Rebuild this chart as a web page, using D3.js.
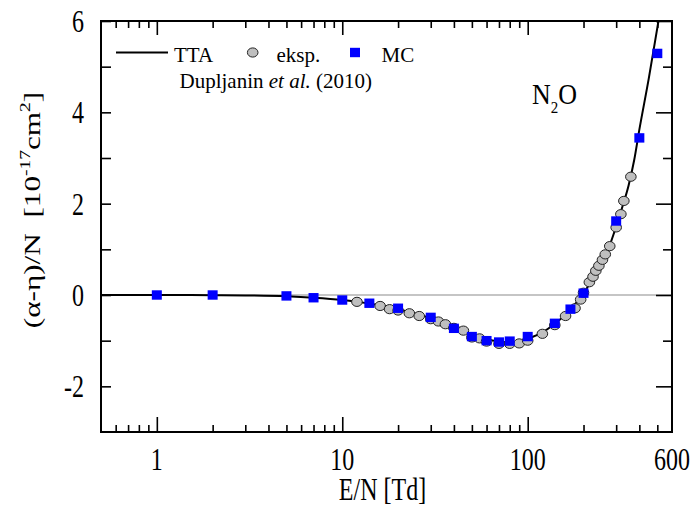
<!DOCTYPE html>
<html><head><meta charset="utf-8">
<script src="https://cdn.jsdelivr.net/npm/d3@7"></script>
<style>html,body{margin:0;padding:0;background:#fff}svg{display:block}text{font-family:"Liberation Serif","Times New Roman",serif;fill:#000}</style>
</head><body>
<svg id="c" width="694" height="506"></svg>
<script>
// ---- data ----
const ttaE = [0.5, 1, 2, 3, 5, 7, 10, 12, 15, 20, 25, 30, 40, 50, 60, 70, 80, 90, 100, 120, 140, 160, 180, 200, 225, 250, 275, 300, 325, 350, 375, 400, 450, 500, 512];
const ttaV = [0, 0, -0.005, -0.01, -0.03, -0.06, -0.11, -0.15, -0.21, -0.31, -0.41, -0.51, -0.71, -0.87, -0.97, -1.02, -1.04, -1.02, -0.96, -0.82, -0.63, -0.43, -0.2, 0.03, 0.38, 0.72, 1.06, 1.5, 1.95, 2.4, 2.95, 3.62, 4.75, 5.85, 6.1];
const expE = [12, 16, 18, 20, 23, 26, 30, 33, 36, 40, 45, 50, 55, 60, 70, 80, 90, 100, 120, 140, 160, 180, 193, 200, 215, 225, 233, 242, 253, 262, 277, 300, 318, 330, 360];
const expV = [-0.15, -0.24, -0.31, -0.34, -0.40, -0.46, -0.53, -0.58, -0.64, -0.72, -0.78, -0.93, -0.95, -1.02, -1.07, -1.07, -1.06, -1.0, -0.85, -0.66, -0.46, -0.29, -0.1, 0.05, 0.28, 0.40, 0.53, 0.64, 0.77, 0.89, 1.07, 1.48, 1.77, 2.06, 2.59];
const mcE = [1, 2, 5, 7, 10, 14, 20, 30, 40, 50, 60, 70, 80, 100, 140, 170, 200, 300, 400, 500];
const mcV = [0, 0, -0.02, -0.06, -0.11, -0.18, -0.29, -0.49, -0.73, -0.91, -1.0, -1.03, -1.01, -0.91, -0.62, -0.31, 0.04, 1.62, 3.44, 5.29];
const xMajor = [1, 10, 100];
const xMinor = [0.6, 0.7, 0.8, 0.9, 2, 3, 4, 5, 6, 7, 8, 9, 20, 30, 40, 50, 60, 70, 80, 90, 200, 300, 400, 500];
const xLabels = [1, 10, 100, 600];
const yMajor = [-2, 0, 2, 4, 6];
const yMinor = [-1, 1, 3, 5];
const legendLabels = ["TTA", "eksp.", "MC"];

// ---- scales ----
const L = 101, R = 672, T = 21, B = 432;
const x = d3.scaleLog().domain([0.5, 600]).range([L, R]);
const y = d3.scaleLinear().domain([-3, 6]).range([B, T]);
const svg = d3.select("#c");
const SY = 1.3; // vertical stretch of the axis text

// clip
svg.append("defs").append("clipPath").attr("id", "clip")
  .append("rect").attr("x", L).attr("y", T).attr("width", R - L).attr("height", B - T);

// zero line
svg.append("line").attr("x1", L).attr("x2", R).attr("y1", y(0)).attr("y2", y(0))
  .attr("stroke", "#8c8c8c").attr("stroke-width", 1.2);

// axes (ticks inward)
function ax(gen, tr, vals, size) {
  const g = svg.append("g").attr("transform", tr)
    .call(gen.tickValues(vals).tickSize(size).tickFormat(""));
  g.select(".domain").remove();
  g.selectAll("line").attr("stroke", "#000").attr("stroke-width", 1.6);
}
ax(d3.axisBottom(x), `translate(0,${B})`, xMajor, -15);
ax(d3.axisBottom(x), `translate(0,${B})`, xMinor, -7);
ax(d3.axisTop(x), `translate(0,${T})`, xMajor, -14);
ax(d3.axisTop(x), `translate(0,${T})`, xMinor, -7);
ax(d3.axisLeft(y), `translate(${L},0)`, yMajor, -10);
ax(d3.axisLeft(y), `translate(${L},0)`, yMinor, -10);
ax(d3.axisRight(y), `translate(${R},0)`, yMajor, -16);
ax(d3.axisRight(y), `translate(${R},0)`, yMinor, -9);

// frame
svg.append("rect").attr("x", L).attr("y", T).attr("width", R - L).attr("height", B - T)
  .attr("fill", "none").attr("stroke", "#000").attr("stroke-width", 2);

// tick labels
function stext(px, py, s, txt, anchor, fs) {
  return svg.append("text").attr("transform", `translate(${px},${py}) scale(1,${s})`)
    .attr("text-anchor", anchor).attr("font-size", fs).text(txt);
}
xLabels.forEach(v => stext(x(v), 470, SY, String(v), "middle", 24));
yMajor.forEach(v => stext(84, y(v) + 11, SY, String(v), "end", 24));

// axis titles
stext((L + R) / 2 - 4, 500, SY, "E/N [Td]", "middle", 24);
const yt = svg.append("text").attr("transform", `translate(40,${210}) rotate(-90) scale(${SY},1)`)
  .attr("text-anchor", "middle").attr("font-size", 24);
yt.append("tspan").text("(α-η)/N\u00a0\u00a0[10");
yt.append("tspan").attr("font-size", 15).attr("dy", -10).text("-17");
yt.append("tspan").attr("dy", 10).text("cm");
yt.append("tspan").attr("font-size", 15).attr("dy", -10).text("2");
yt.append("tspan").attr("dy", 10).text("]");

// data
const plot = svg.append("g").attr("clip-path", "url(#clip)");
const line = d3.line().x(d => x(d[0])).y(d => y(d[1])).curve(d3.curveMonotoneX);
plot.append("path").datum(ttaE.map((e, i) => [e, ttaV[i]])).attr("d", line)
  .attr("fill", "none").attr("stroke", "#000").attr("stroke-width", 2);
plot.selectAll("ellipse.exp").data(expE.map((e, i) => [e, expV[i]])).join("ellipse")
  .attr("class", "exp").attr("cx", d => x(d[0])).attr("cy", d => y(d[1]))
  .attr("rx", 5.3).attr("ry", 4.6).attr("fill", "#bfbfbf").attr("stroke", "#222").attr("stroke-width", 1);
plot.selectAll("rect.mc").data(mcE.map((e, i) => [e, mcV[i]])).join("rect")
  .attr("class", "mc").attr("x", d => x(d[0]) - 5).attr("y", d => y(d[1]) - 4.7)
  .attr("width", 10).attr("height", 9.4).attr("fill", "#0000ff");

// legend
const ly = 52.5;
svg.append("line").attr("x1", 116).attr("x2", 168).attr("y1", ly).attr("y2", ly)
  .attr("stroke", "#000").attr("stroke-width", 2);
svg.append("text").attr("x", 174).attr("y", 62).attr("font-size", 21).text(legendLabels[0]);
svg.append("ellipse").attr("cx", 252.7).attr("cy", ly).attr("rx", 5.3).attr("ry", 4.6)
  .attr("fill", "#bfbfbf").attr("stroke", "#222").attr("stroke-width", 1);
svg.append("text").attr("x", 276.5).attr("y", 62).attr("font-size", 21).text(legendLabels[1]);
svg.append("rect").attr("x", 350).attr("y", ly - 4.7).attr("width", 10).attr("height", 9.4).attr("fill", "#0000ff");
svg.append("text").attr("x", 381.5).attr("y", 62).attr("font-size", 21).text(legendLabels[2]);
const cit = svg.append("text").attr("x", 179.5).attr("y", 88).attr("font-size", 21);
cit.append("tspan").text("Dupljanin ");
cit.append("tspan").attr("font-style", "italic").text("et al.");
cit.append("tspan").text(" (2010)");

// molecule label
const mol = svg.append("text").attr("transform", `translate(532,104) scale(1,1.15)`).attr("font-size", 26);
mol.append("tspan").text("N");
mol.append("tspan").attr("font-size", 15).attr("dy", 8).text("2");
mol.append("tspan").attr("dy", -8).text("O");
</script>
</body></html>
